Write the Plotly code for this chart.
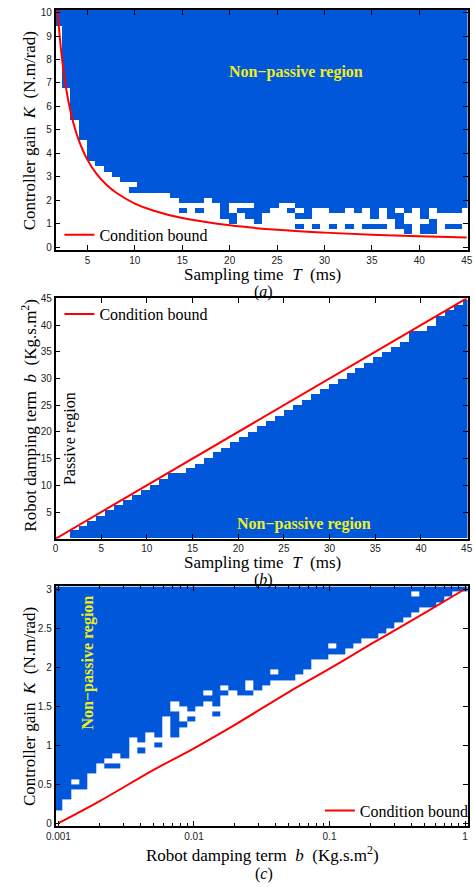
import numpy as np
import plotly.graph_objects as go

BLUE = "#0057DA"
RED = "#FF0000"
YELLOW = "#EEEE1E"
SERIF = "Liberation Serif, Times New Roman, serif"
SANS = "Liberation Sans, Arial, sans-serif"
W, H = 474, 887

# ---------------- panel (a): K vs T ----------------
a_T_grid = np.linspace(1, 45, 51)          # sampling-time grid (ms), cell centres
a_K_grid = np.linspace(0, 10, 46)          # controller-gain grid, cell centres
# lowest fully non-passive row index per column (col 0 lies off-axis)
a_low = [46, 43, 31, 25, 21, 17, 16, 15, 14, 13, 11, 11, 11, 11, 11,
         10, 10, 10, 10, 10, 10, 10, 10, 10, 10, 10, 10, 10, 10, 10, 10, 10,
         10, 10, 10, 10, 10, 10, 10, 10, 10, 10, 10, 10, 10, 10, 10, 10, 10, 10, 10]
# scattered cells near the boundary, columns 15..50 ('#' = non-passive)
a_noise_start = 15
a_noise = {
    9: ".###.######" + "#########################",
    8: "......#...#" + "##..#####################",
    7: ".#.#..#.###" + "#..#.#..##.#.#.#.#.#.###.",
    6: "......##.##" + "....##.......#.##..#.....",
    5: ".......#..#" + "................#...#....",
    4: "..........." + "....#.#.#.#.###.##.##.##.",
    3: "..........." + ".................#.##....",
}
a_holes = [(12, 10)]  # (row, col)
a_bound_T = [1.84, 2.2, 2.5, 3, 3.5, 4, 5, 6, 7, 8, 10, 12, 15, 20, 25, 30, 35, 40, 45]
a_bound_K = [10.11, 8.45, 7.44, 6.2, 5.31, 4.65, 3.72, 3.1, 2.66, 2.33, 1.86, 1.55,
             1.24, 0.93, 0.74, 0.62, 0.53, 0.47, 0.41]

# ---------------- panel (b): b vs T ----------------
b_T_grid = np.linspace(1, 45, 46)[1:]
b_top = [1.6, 2.4, 3.3, 4.25, 5.25, 6.2, 7.2, 8.1, 9.0, 10.0,
         11.2, 12.2, 12.2, 13.2, 14.0, 15.1, 16.1, 17.0, 18.0, 19.0,
         20.0, 21.1, 22.0, 23.0, 24.0, 25.0, 26.0, 27.0, 27.9, 28.9,
         29.9, 30.9, 31.9, 32.9, 33.9, 34.9, 35.9, 36.7, 38.8, 38.8,
         39.7, 41.7, 42.7, 43.6, 44.7]
b_bound_T = [0, 45]
b_bound_b = [0, 45]

# ---------------- panel (c): K vs b (log) ----------------
c_b_grid = np.logspace(-3, 0, 50)
c_K_grid = np.linspace(0, 3, 46)
c_low = [3, 5, 9, 7, 10, 12, 13, 14, 14, 17, 16, 18, 17, 21, 24, 23, 22, 23, 24, 23,
         25, 26, 25, 28, 26, 27, 28, 28, 28, 29, 30, 32, 32, 33, 33, 34, 35, 36, 36, 37,
         38, 39, 40, 41, 42, 42, 43, 44, 45, 45]
c_extra = [(2, 7), (6, 11), (7, 11), (8, 13), (10, 14), (12, 15), (14, 17), (14, 18),
           (14, 19), (14, 20), (14, 21), (15, 19), (16, 20), (19, 21), (23, 25)]  # (col, row)
c_holes = [(18, 25), (20, 26), (43, 44), (26, 29), (33, 34)]
c_bound_b = [0.001, 0.002, 0.005, 0.01, 0.02, 0.05, 0.1, 0.2, 0.5, 1.0]
c_bound_K = [0.0, 0.28, 0.68, 0.96, 1.26, 1.68, 1.98, 2.29, 2.69, 3.0]

# ---------- build masks ----------
z_a = np.full((len(a_K_grid), len(a_T_grid)), np.nan)
for j, lo in enumerate(a_low):
    z_a[lo:, j] = 1
for r, s in a_noise.items():
    for c, ch in enumerate(s):
        z_a[r, a_noise_start + c] = 1 if ch == "#" else np.nan
for r, c in a_holes:
    z_a[r, c] = np.nan

z_c = np.full((len(c_K_grid), len(c_b_grid)), np.nan)
for k, lo in enumerate(c_low):
    z_c[lo:, k] = 1
for k, m in c_extra:
    z_c[m, k] = 1
for k, m in c_holes:
    z_c[m, k] = np.nan
mid = np.sqrt(c_b_grid[:-1] * c_b_grid[1:])
c_edges = np.concatenate([[c_b_grid[0] ** 2 / mid[0]], mid, [c_b_grid[-1] ** 2 / mid[-1]]])

cs = [[0, BLUE], [1, BLUE]]
fig = go.Figure()
fig.add_trace(go.Heatmap(x=a_T_grid, y=a_K_grid, z=z_a, colorscale=cs, zmin=0, zmax=1,
                         showscale=False, hoverinfo="skip", xaxis="x", yaxis="y"))
fig.add_trace(go.Scatter(x=a_bound_T, y=a_bound_K, mode="lines", line=dict(color=RED, width=2, shape="spline"),
                         name="Condition bound", legend="legend", xaxis="x", yaxis="y"))
fig.add_trace(go.Bar(x=b_T_grid, y=b_top, width=44 / 45, marker=dict(color=BLUE, line=dict(width=0)),
                     showlegend=False, hoverinfo="skip", xaxis="x2", yaxis="y2"))
fig.add_trace(go.Scatter(x=b_bound_T, y=b_bound_b, mode="lines", line=dict(color=RED, width=2),
                         name="Condition bound", legend="legend2", xaxis="x2", yaxis="y2"))
fig.add_trace(go.Heatmap(x=c_edges, y=c_K_grid, z=z_c, colorscale=cs, zmin=0, zmax=1,
                         showscale=False, hoverinfo="skip", xaxis="x3", yaxis="y3"))
fig.add_trace(go.Scatter(x=c_bound_b, y=c_bound_K, mode="lines", line=dict(color=RED, width=2, shape="spline"),
                         name="Condition bound", legend="legend3", xaxis="x3", yaxis="y3"))


def px_x(p):
    return p / W


def px_y(p):
    return 1 - p / H


xdom = [px_x(47), px_x(472.5)]
axis_common = dict(showline=True, linecolor="black", linewidth=1.5, mirror="ticks", ticks="inside",
                   ticklen=5, tickwidth=1, tickcolor="black", showgrid=False, zeroline=False,
                   tickfont=dict(family=SANS, size=10, color="#222"))

legend_common = dict(font=dict(family=SERIF, size=16, color="black"), bgcolor="rgba(0,0,0,0)",
                     borderwidth=0, xanchor="left", yanchor="middle", tracegroupgap=0)

fig.update_layout(
    width=W, height=H, margin=dict(l=0, r=0, t=0, b=0),
    paper_bgcolor="white", plot_bgcolor="white", bargap=0,
    xaxis=dict(domain=xdom, range=[1.63, 45.09], anchor="y",
               tickvals=[5, 10, 15, 20, 25, 30, 35, 40, 45], **axis_common),
    yaxis=dict(domain=[px_y(247), px_y(5)], range=[-0.111, 10.111], anchor="x",
               tickvals=list(range(0, 11)), **axis_common),
    xaxis2=dict(domain=xdom, range=[0, 45.1], anchor="y2",
                tickvals=[0, 5, 10, 15, 20, 25, 30, 35, 40, 45], **axis_common),
    yaxis2=dict(domain=[px_y(538.6), px_y(296)], range=[0, 45], anchor="x2",
                tickvals=[5, 10, 15, 20, 25, 30, 35, 40, 45], **axis_common),
    xaxis3=dict(domain=xdom, type="log", range=[-3.0214, 0.018], anchor="y3",
                tickvals=[0.001, 0.01, 0.1, 1], ticktext=["0.001", "0.01", "0.1", "1"],
                minor=dict(ticks="inside", ticklen=3, tickcolor="black",
                           tickvals=[m * d for d in (0.001, 0.01, 0.1) for m in range(2, 10)]),
                **axis_common),
    yaxis3=dict(domain=[px_y(828.3), px_y(586.7)], range=[-0.0333, 3.0333], anchor="x3",
                tickvals=[0, 0.5, 1, 1.5, 2, 2.5, 3], ticktext=["0", "0.5", "1", "1.5", "2", "2.5", "3"],
                **axis_common),
    legend=dict(x=px_x(51), y=px_y(232), **legend_common),
    legend2=dict(x=px_x(51), y=px_y(312), **legend_common),
    legend3=dict(x=px_x(320), y=px_y(813), **legend_common),
)

NB = "\u00a0"
ann = []


def add_text(text, x, y, size=17, angle=0, color="black", bold=False):
    ann.append(dict(text=("<b>%s</b>" % text) if bold else text, x=px_x(x), y=px_y(y),
                    xref="paper", yref="paper", showarrow=False, textangle=angle,
                    xanchor="center", yanchor="middle",
                    font=dict(family=SERIF, size=size, color=color)))


k_title = "Controller gain" + NB * 2 + "<i>K</i>" + NB * 2 + "(N.m/rad)"
t_title = "Sampling time" + NB * 2 + "<i>T</i>" + NB * 2 + "(ms)"
b_title = "Robot damping term" + NB * 2 + "<i>b</i>" + NB * 2 + "(Kg.s.m<sup>2</sup>)"

add_text(k_title, 20, 127, angle=-90)
add_text(t_title, 261, 272)
add_text("(<i>a</i>)", 262, 290, size=16)
add_text(b_title, 20, 414, angle=-90)
add_text(t_title, 261, 563)
add_text("(<i>b</i>)", 262, 580, size=16)
add_text(k_title, 20, 708, angle=-90)
add_text(b_title, 261, 857)
add_text("(<i>c</i>)", 262, 877, size=16)

add_text("Non\u2212passive region", 295, 68, size=16, color=YELLOW, bold=True)
add_text("Non\u2212passive region", 304, 524, size=16, color=YELLOW, bold=True)
add_text("Non\u2212passive region", 81, 663, size=16, color=YELLOW, bold=True, angle=-90)
add_text("Passive region", 62, 438, size=16, angle=-90)

fig.update_layout(annotations=ann)
fig.write_html("out.html")
